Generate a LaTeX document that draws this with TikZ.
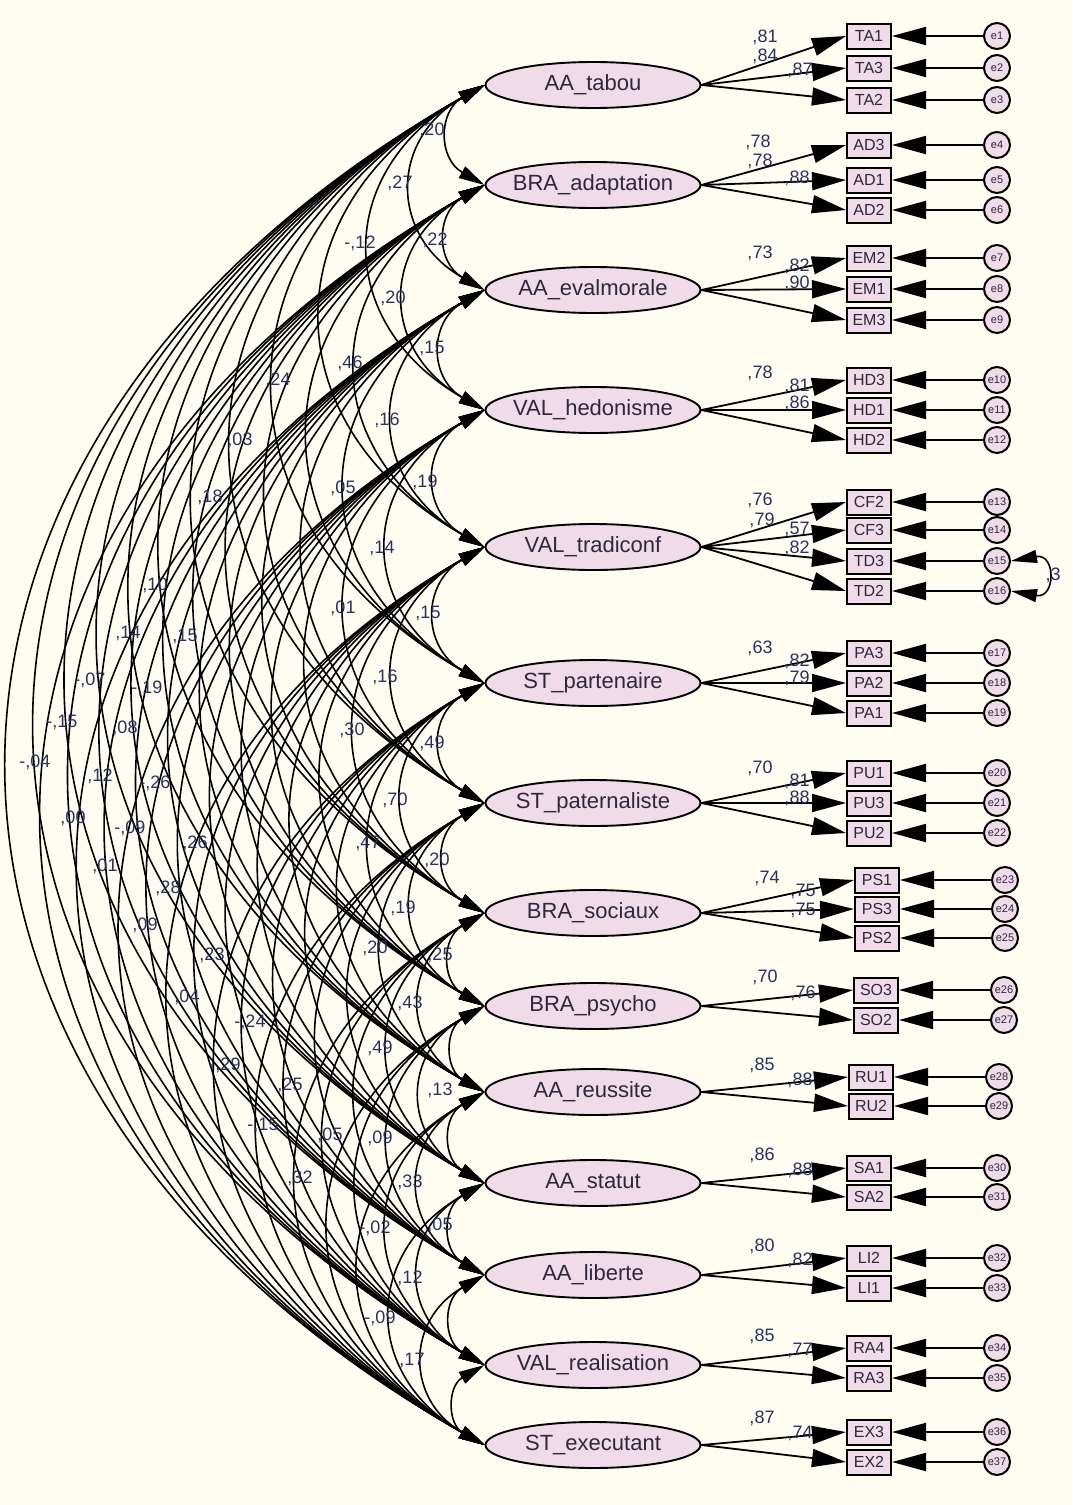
\documentclass[tikz,border=0pt]{standalone}
\usepackage{fontspec}
\setmainfont{Liberation Sans}
\usetikzlibrary{shapes.geometric,arrows.meta}
\definecolor{bg}{RGB}{255,253,242}
\definecolor{lat}{RGB}{240,220,232}
\definecolor{lbl}{RGB}{40,50,95}
\definecolor{txt}{RGB}{45,40,60}
\begin{document}
\begin{tikzpicture}[x=1pt,y=-1pt,
 latent/.style={ellipse,draw=black,line width=1.9pt,fill=lat,minimum width=215pt,minimum height=46pt,inner xsep=-30pt,inner ysep=0pt,text=txt,font=\fontsize{22}{22}\selectfont},
 ind/.style={rectangle,draw=black,line width=2pt,fill=lat,minimum width=44pt,minimum height=25pt,inner sep=0pt,text=txt,font=\fontsize{16}{16}\selectfont},
 err/.style={circle,draw=black,line width=2pt,fill=lat,minimum size=26pt,inner sep=0pt,text=txt,font=\fontsize{11}{11}\selectfont},
 cov/.style={line width=1.6pt,{Triangle[length=26pt,width=13pt]}-{Triangle[length=26pt,width=13pt]}},
 load/.style={line width=1.8pt,-{Triangle[length=34pt,width=18pt]}},
 est/.style={text=lbl,font=\fontsize{18}{18}\selectfont,inner sep=0pt}
]
\fill[bg] (0,0) rectangle (1072,1505);
\useasboundingbox (0,0) rectangle (1072,1505);

% latent variables
\foreach \n/\y/\t in {1/85/AA\_tabou, 2/185/BRA\_adaptation, 3/290/AA\_evalmorale,
  4/410/VAL\_hedonisme, 5/547/VAL\_tradiconf, 6/683/ST\_partenaire,
  7/803/ST\_paternaliste, 8/913/BRA\_sociaux, 9/1006/BRA\_psycho,
  10/1092/AA\_reussite, 11/1183/AA\_statut, 12/1275/AA\_liberte,
  13/1365/VAL\_realisation, 14/1445/ST\_executant}
  \node[latent] (L\n) at (593,\y) {\t};

% covariances
\foreach \i/\yi in {1/85,2/185,3/290,4/410,5/547,6/683,7/803,8/913,9/1006,10/1092,11/1183,12/1275,13/1365,14/1445}{
  \foreach \j/\yj in {1/85,2/185,3/290,4/410,5/547,6/683,7/803,8/913,9/1006,10/1092,11/1183,12/1275,13/1365,14/1445}{
    \ifnum\j>\i
      \pgfmathsetmacro\dd{\yj-\yi}
      \pgfmathsetmacro\cx{-0.465*\dd}
      \pgfmathsetmacro\cy{0.264*\dd}
      \draw[cov] (L\i.west) .. controls +(\cx,\cy) and +(\cx,-\cy) .. (L\j.west);
    \fi
  }
}

% indicators, errors
\foreach \n/\y/\l/\x/\e in {TA1/36/1/869/1, TA3/68/1/869/2, TA2/100/1/869/3,
  AD3/145/2/869/4, AD1/180/2/869/5, AD2/210/2/869/6,
  EM2/258/3/869/7, EM1/289/3/869/8, EM3/320/3/869/9,
  HD3/380/4/869/10, HD1/410/4/869/11, HD2/440/4/869/12,
  CF2/502/5/869/13, CF3/530/5/869/14, TD3/561/5/869/15, TD2/591/5/869/16,
  PA3/653/6/869/17, PA2/683/6/869/18, PA1/713/6/869/19,
  PU1/773/7/869/20, PU3/803/7/869/21, PU2/833/7/869/22,
  PS1/880/8/877/23, PS3/909/8/877/24, PS2/938/8/877/25,
  SO3/990/9/876/26, SO2/1020/9/876/27,
  RU1/1077/10/871/28, RU2/1106/10/871/29,
  SA1/1168/11/869/30, SA2/1197/11/869/31,
  LI2/1258/12/869/32, LI1/1288/12/869/33,
  RA4/1348/13/869/34, RA3/1378/13/869/35,
  EX3/1432/14/869/36, EX2/1462/14/869/37}{
  \node[ind] (\n) at (\x,\y) {\n};
  \node[err] (e\n) at (\x+128,\y) {e\e};
  \draw[load] (L\l.east) -- (\n.west);
  \draw[load] (e\n.west) -- (\n.east);
}

% error covariance
\draw[cov] (eTD3.east) .. controls +(45,-8) and +(45,8) .. (eTD2.east);
\node[est] (ecv) at (1053,575) {,3};

% loading estimates
\foreach \x/\y/\t [count=\k] in {765/37/{,81}, 765/56/{,84}, 800/70/{,87},
  758/142/{,78}, 760/161/{,78}, 797/178/{,88},
  760/253/{,73}, 797/266/{,82}, 797/283/{,90},
  760/373/{,78}, 797/386/{,81}, 797/403/{,86},
  760/500/{,76}, 762/520/{,79}, 797/529/{,57}, 797/548/{,82},
  760/648/{,63}, 797/661/{,82}, 797/678/{,79},
  760/768/{,70}, 797/781/{,81}, 797/798/{,88},
  767/878/{,74}, 803/891/{,75}, 803/910/{,75},
  765/977/{,70}, 803/993/{,76},
  762/1065/{,85}, 800/1080/{,88},
  762/1155/{,86}, 800/1170/{,88},
  762/1246/{,80}, 800/1260/{,82},
  762/1336/{,85}, 800/1350/{,77},
  762/1418/{,87}, 800/1433/{,74}}
  \node[est] (ld\k) at (\x,\y) {\t};

% covariance estimates
\foreach \x/\y/\t [count=\k] in {432/130/{,20}, 400/183/{,27}, 360/243/{-,12},
  435/240/{,22}, 393/298/{,20}, 432/348/{,15}, 350/363/{,46}, 278/380/{,24},
  240/440/{,03}, 210/497/{,18}, 387/420/{,16}, 425/482/{,19}, 343/488/{,05},
  382/548/{,14}, 343/608/{,01}, 428/613/{,15}, 385/677/{,16}, 352/730/{,30},
  432/743/{,49}, 395/800/{,70}, 368/843/{,47}, 437/860/{,20}, 403/908/{,19},
  375/948/{,20}, 440/955/{,25}, 410/1003/{,43}, 380/1048/{,49}, 440/1090/{,13},
  380/1138/{,09}, 410/1182/{,33}, 375/1228/{-,02}, 440/1225/{,05}, 410/1278/{,12},
  380/1318/{-,09}, 412/1360/{,17}, 300/1178/{,32}, 330/1135/{,05}, 290/1085/{,25},
  250/1022/{-,24}, 225/1065/{-,29}, 187/997/{,04}, 212/955/{,23}, 263/1125/{-,15},
  90/680/{-,07}, 62/722/{-,15}, 35/762/{-,04}, 100/776/{,12}, 73/818/{,00},
  105/866/{,01}, 125/728/{,08}, 130/828/{-,09}, 155/783/{-,26}, 195/843/{,26},
  168/888/{,28}, 145/925/{,09}, 147/688/{-,19}, 155/585/{,10}, 128/633/{,14},
  185/636/{,15}}
  \node[est] (cv\k) at (\x,\y) {\t};
\end{tikzpicture}
\end{document}
